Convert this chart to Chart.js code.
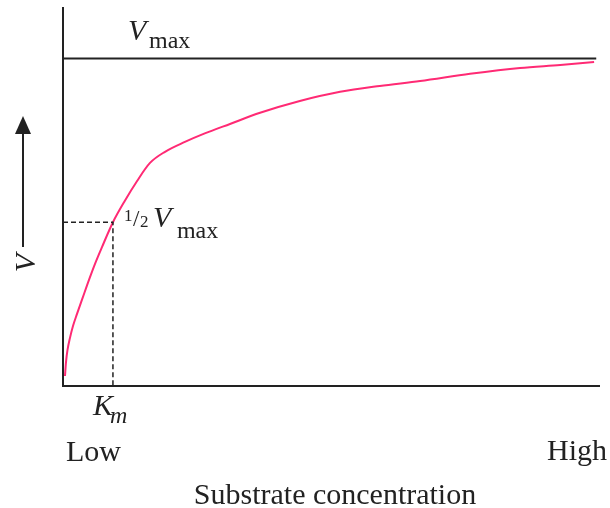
<!DOCTYPE html>
<html>
<head>
<meta charset="utf-8">
<script src="https://cdn.jsdelivr.net/npm/chart.js@4/dist/chart.umd.min.js"></script>
<style>
  html, body { margin: 0; padding: 0; background: #ffffff; }
  #wrap { width: 610px; height: 508px; position: relative; }
</style>
</head>
<body>
<div id="wrap"><canvas id="c" width="610" height="508"></canvas></div>
<script>
// ---- data ----
const substrate = [0.37, 0.56, 0.84, 1.30, 1.86, 2.61, 3.72, 4.84, 5.96, 7.26, 9.3, 11.5, 13.8, 16.2, 19.0, 22.7, 26.4, 31.1, 36.7, 44.1, 51.6, 59.0, 66.5, 75.8, 85.1, 92.6, 98.9];
const velocity  = [3.05, 7.3, 11.0, 14.7, 18.3, 22.0, 27.2, 32.4, 37.3, 42.4, 50.0, 56.5, 62.6, 68.1, 71.5, 74.5, 77.1, 80.0, 83.4, 87.0, 89.8, 91.6, 93.1, 95.3, 97.1, 98.0, 98.9];
const vmax = 100;
const halfVmax = 50;
const km = 9.3;
const vmaxLineX = [0, 99.3];
const xTickLabels = ['Low', 'High'];
const xAxisTitle = 'Substrate concentration';
const yAxisTitle = 'V';

const curve = substrate.map((x, i) => ({ x: x, y: velocity[i] }));
const vmaxLine = vmaxLineX.map(x => ({ x: x, y: vmax }));
const dashed = [{ x: 0, y: halfVmax }, { x: km, y: halfVmax }, { x: km, y: 0 }];

const INK = '#222222';
const SERIF = '"Liberation Serif", "DejaVu Serif", serif';

const labelPlugin = {
  id: 'labels',
  afterDatasetsDraw(chart) {
    const ctx = chart.ctx;
    const xs = chart.scales.x, ys = chart.scales.y;
    const a = chart.chartArea;
    ctx.save();
    // axes
    ctx.strokeStyle = INK;
    ctx.lineWidth = 2;
    ctx.beginPath();
    ctx.moveTo(a.left, a.top);
    ctx.lineTo(a.left, a.bottom);
    ctx.lineTo(a.right, a.bottom);
    ctx.stroke();

    ctx.fillStyle = INK;
    ctx.textBaseline = 'alphabetic';

    // Vmax label
    const vy = ys.getPixelForValue(vmax);
    ctx.textAlign = 'left';
    ctx.font = 'italic 30px ' + SERIF;
    ctx.fillText('V', 128, vy - 18);
    ctx.font = '24px ' + SERIF;
    ctx.fillText('max', 149, vy - 10);

    // 1/2 Vmax label
    const hx = xs.getPixelForValue(km);
    const hy = ys.getPixelForValue(halfVmax);
    ctx.font = '17px ' + SERIF;
    ctx.fillText('1', hx + 11, hy - 1);
    ctx.font = '23px ' + SERIF;
    ctx.fillText('/', hx + 20, hy + 4);
    ctx.font = '17px ' + SERIF;
    ctx.fillText('2', hx + 27, hy + 5);
    ctx.font = 'italic 30px ' + SERIF;
    ctx.fillText('V', hx + 40, hy + 5);
    ctx.font = '24px ' + SERIF;
    ctx.fillText('max', hx + 64, hy + 16);

    // Km label
    ctx.font = 'italic 30px ' + SERIF;
    ctx.fillText('K', hx - 20, 415);
    ctx.font = 'italic 24px ' + SERIF;
    ctx.fillText('m', hx - 3, 423);

    // Low / High
    ctx.font = '30px ' + SERIF;
    ctx.textAlign = 'left';
    ctx.fillText(xTickLabels[0], a.left + 3, 461);
    ctx.textAlign = 'right';
    ctx.fillText(xTickLabels[1], 607, 460);

    // x axis title
    ctx.textAlign = 'center';
    ctx.fillText(xAxisTitle, 335, 504);

    // y axis label, rotated
    ctx.save();
    ctx.translate(35, 263);
    ctx.rotate(-Math.PI / 2);
    ctx.font = 'italic 30px ' + SERIF;
    ctx.textAlign = 'center';
    ctx.fillText(yAxisTitle, 0, 0);
    ctx.restore();

    // arrow
    ctx.strokeStyle = INK;
    ctx.lineWidth = 2;
    ctx.beginPath();
    ctx.moveTo(23, 247);
    ctx.lineTo(23, 128);
    ctx.stroke();
    ctx.beginPath();
    ctx.moveTo(23, 116);
    ctx.lineTo(31, 134);
    ctx.lineTo(15, 134);
    ctx.closePath();
    ctx.fill();
    ctx.restore();
  }
};

new Chart(document.getElementById('c'), {
  type: 'line',
  data: {
    datasets: [
      {
        label: 'Vmax',
        data: vmaxLine,
        borderColor: INK,
        borderWidth: 2,
        pointRadius: 0,
        clip: false
      },
      {
        label: 'Km guide',
        data: dashed,
        borderColor: INK,
        borderWidth: 1.5,
        borderDash: [5, 3],
        pointRadius: 0,
        tension: 0,
        clip: false
      },
      {
        label: 'V',
        data: curve,
        borderColor: '#ff2a74',
        borderWidth: 2,
        pointRadius: 0,
        cubicInterpolationMode: 'monotone',
        clip: false
      }
    ]
  },
  options: {
    responsive: false,
    animation: false,
    events: [],
    layout: { padding: { left: 63, right: 10, top: 7, bottom: 122 } },
    plugins: { legend: { display: false }, tooltip: { enabled: false } },
    scales: {
      x: { type: 'linear', min: 0, max: 100, display: false },
      y: { type: 'linear', min: 0, max: 115.7, display: false }
    }
  },
  plugins: [labelPlugin]
});
</script>
</body>
</html>
